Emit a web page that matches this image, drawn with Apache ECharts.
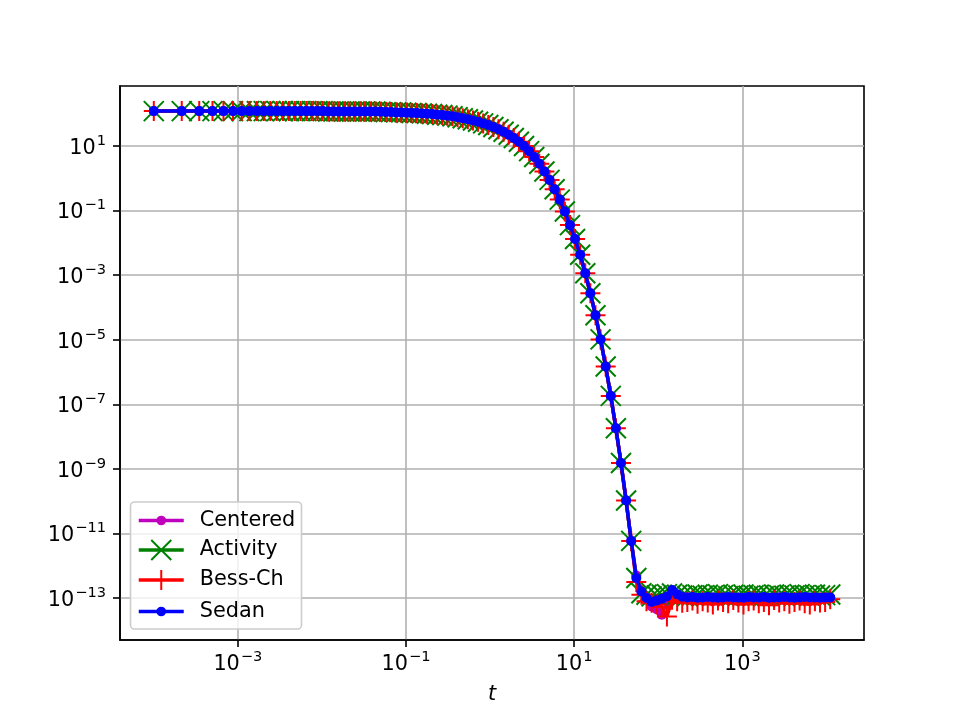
<!DOCTYPE html>
<html>
<head>
<meta charset="UTF-8">
<title>t decay</title>
<script type="text/javascript" src="https://cdn.jsdelivr.net/npm/echarts@6/dist/echarts.min.js"></script>
<style>
	body { margin: 0; background: #fff; }
	#main { width: 960px; height: 720px; }
</style>
</head>
<body>
<div id="main"></div>
<script type="text/javascript">
	// sample times (same for every run)
	var tVals = [
		1.00e-4, 2.15e-4, 3.47e-4, 4.99e-4, 6.74e-4, 8.75e-4, 1.11e-3, 1.37e-3, 1.68e-3, 2.03e-3,
		2.43e-3, 2.90e-3, 3.44e-3, 4.05e-3, 4.76e-3, 5.57e-3, 6.51e-3, 7.58e-3, 8.82e-3, 1.02e-2,
		1.183e-2, 1.370e-2, 1.586e-2, 1.834e-2, 2.119e-2, 2.447e-2, 2.824e-2, 3.258e-2, 3.756e-2, 4.33e-2,
		4.99e-2, 5.75e-2, 6.62e-2, 7.62e-2, 8.77e-2, 0.1010, 0.1163, 0.1338, 0.1540, 0.1772,
		0.2039, 0.2346, 0.2699, 0.3105, 0.3572, 0.4109, 0.4726, 0.5436, 0.6252, 0.7191,
		0.8271, 0.9513, 1.094, 1.258, 1.447, 1.664, 1.914, 2.201, 2.531, 2.911,
		3.348, 3.850, 4.428, 5.092, 5.856, 6.734, 7.744, 8.906, 10.24, 11.78,
		13.55, 15.58, 17.92, 20.60, 23.69, 27.25, 31.33, 36.03, 41.44, 47.66,
		54.80, 63.02, 72.48, 83.35, 95.85, 110.2, 126.8, 145.8, 167.7, 192.8,
		221.7, 255.0, 293.2, 337.2, 387.8, 446.0, 512.9, 589.8, 678.3, 780.0,
		897.0, 1031.6, 1186.3, 1364.3, 1569, 1804, 2075, 2386, 2744, 3156,
		3629, 4173, 4799, 5519, 6347, 7299, 8394, 9653, 11101
	];
	// decade exponent (log10) of the value, the 4 runs lie on top of each other here
	var decayExp = [
		2.08, 2.08, 2.08, 2.08, 2.08, 2.08, 2.08, 2.08, 2.08, 2.08,
		2.08, 2.08, 2.08, 2.08, 2.08, 2.08, 2.08, 2.08, 2.08, 2.08,
		2.07, 2.07, 2.07, 2.07, 2.07, 2.07, 2.07, 2.07, 2.07, 2.07,
		2.06, 2.05, 2.05, 2.04, 2.04, 2.03, 2.02, 2.02, 2.01, 2.00,
		1.99, 1.97, 1.96, 1.94, 1.92, 1.89, 1.86, 1.83, 1.79, 1.75,
		1.70, 1.65, 1.59, 1.52, 1.44, 1.35, 1.25, 1.13, 1.00, 0.84,
		0.66, 0.45, 0.21, -0.05, -0.34, -0.66, -1.03, -1.45, -1.88, -2.37,
		-2.94, -3.56, -4.24, -4.99, -5.83, -6.74, -7.74, -8.82, -9.98, -11.23
	];
	// tails at the round-off floor, one per run
	var tailCentered = [
		-12.30, -12.80, -13.05, -13.26, -13.35, -13.52, -13.10, -12.85, -12.92, -12.98,
		-13.00, -12.98, -13.01, -12.99, -13.00, -12.98, -13.01, -13.00, -12.99, -13.00,
		-13.01, -12.99, -13.00, -12.98, -13.01, -13.00, -12.99, -13.00, -13.01, -12.99,
		-13.00, -12.98, -13.00, -13.01, -12.99, -13.00, -13.00, -12.99, -13.00
	];
	var tailActivity = [
		-12.38, -12.85, -12.90, -12.95, -12.92, -12.90, -12.88, -12.86, -12.90, -12.92,
		-12.94, -12.91, -12.89, -12.93, -12.90, -12.92, -12.88, -12.91, -12.94, -12.90,
		-12.92, -12.89, -12.93, -12.91, -12.90, -12.94, -12.92, -12.89, -12.91, -12.93,
		-12.90, -12.92, -12.88, -12.91, -12.93, -12.90, -12.92, -12.91, -12.89
	];
	var tailBess = [
		-12.50, -12.90, -13.10, -13.15, -13.20, -13.28, -13.57, -13.05, -13.10, -13.15,
		-13.12, -13.08, -13.18, -13.10, -13.14, -13.20, -13.08, -13.12, -13.16, -13.06,
		-13.14, -13.20, -13.10, -13.08, -13.16, -13.12, -13.22, -13.06, -13.14, -13.10,
		-13.18, -13.12, -13.08, -13.16, -13.20, -13.10, -13.14, -13.12, -13.04
	];
	var tailSedan = [
		-12.38, -12.80, -13.00, -13.12, -13.08, -13.02, -12.95, -12.75, -12.88, -12.96,
		-12.98, -12.97, -12.99, -12.98, -12.97, -12.98, -12.99, -12.98, -12.97, -12.98,
		-12.98, -12.99, -12.97, -12.98, -12.98, -12.97, -12.99, -12.98, -12.98, -12.97,
		-12.98, -12.99, -12.98, -12.97, -12.98, -12.98, -12.99, -12.98, -12.98
	];
	var xTicks = [-3, -1, 1, 3];
	var yTicks = [-13, -11, -9, -7, -5, -3, -1, 1];

	var FONT = 'DejaVu Sans';
	var SYM_X = 'path://M0,0L10,10M10,0L0,10';
	var SYM_PLUS = 'path://M5,0L5,10M0,5L10,5';
	var LW = 3.5;

	function buildData(tail){
		var ys = decayExp.concat(tail);
		var out = [];
		for (var i = 0; i < tVals.length; i++) {
			out.push([Math.log10(tVals[i]), ys[i]]);
		}
		return out;
	}
	function powLabel(v){
		var e = Math.round(v);
		return '{b|10}{s|' + (e < 0 ? '\u2212' + (-e) : e) + '}';
	}
	// superscript is lifted by giving it bottom padding
	var richLbl = {
		b: {fontFamily: FONT, fontSize: 20.8, color: '#000', lineHeight: 20, padding: [5, 0, 0, 0]},
		s: {fontFamily: FONT, fontSize: 14.6, color: '#000', lineHeight: 15, padding: [0, 0, 10, 1]}
	};

	function legendFor(name, top, h){
		return {
			data: [name],
			left: 137,
			top: top,
			padding: 0,
			itemWidth: 45,
			itemHeight: h,
			selectedMode: false,
			lineStyle: {width: LW},
			textStyle: {fontFamily: FONT, fontSize: 20.8, color: '#000', padding: [0, 0, 0, 11]}
		};
	}

	var axisLineStyle = {show: true, onZero: false, lineStyle: {color: '#000', width: 1.6}};

	var myChart = echarts.init(document.getElementById('main'), null, {renderer: 'canvas'});
	var option = {
		animation: false,
		backgroundColor: '#fff',
		grid: {left: 120, top: 86, width: 744, height: 554, show: true, borderColor: '#000', borderWidth: 1.6, backgroundColor: 'transparent'},
		xAxis: {
			type: 'value',
			min: -4.402,
			max: 4.447,
			name: 't',
			nameLocation: 'middle',
			nameGap: 44,
			nameTextStyle: {fontFamily: FONT, fontSize: 20.8, fontStyle: 'italic', color: '#000'},
			axisLine: axisLineStyle,
			axisTick: {show: true, customValues: xTicks, length: 7, lineStyle: {color: '#000', width: 1.6}},
			axisLabel: {customValues: xTicks, margin: 12, formatter: powLabel, rich: richLbl},
			splitLine: {show: true, lineStyle: {color: '#b0b0b0', width: 1.6}}
		},
		yAxis: {
			type: 'value',
			min: -14.30,
			max: 2.858,
			axisLine: axisLineStyle,
			axisTick: {show: true, customValues: yTicks, length: 7, lineStyle: {color: '#000', width: 1.6}},
			axisLabel: {customValues: yTicks, margin: 14, formatter: powLabel, rich: richLbl},
			splitLine: {show: true, lineStyle: {color: '#b0b0b0', width: 1.6}}
		},
		graphic: [{
			type: 'rect',
			z: 3,
			shape: {x: 130.5, y: 502, width: 171, height: 127, r: 4},
			style: {fill: 'rgba(255,255,255,0.8)', stroke: '#cccccc', lineWidth: 1.6}
		}],
		legend: [
			legendFor('Centered', 510, 12),
			legendFor('Activity', 539, 25),
			legendFor('Bess-Ch', 569, 25),
			legendFor('Sedan', 601, 12)
		],
		series: [
			{
				name: 'Centered', type: 'line', z: 2,
				data: buildData(tailCentered),
				symbol: 'circle', symbolSize: 10,
				itemStyle: {color: '#bf00bf'},
				lineStyle: {color: '#bf00bf', width: LW}
			},
			{
				name: 'Activity', type: 'line', z: 3,
				data: buildData(tailActivity),
				symbol: SYM_X, symbolSize: 20,
				itemStyle: {color: '#008000', borderColor: '#008000', borderWidth: 2},
				lineStyle: {color: '#008000', width: LW}
			},
			{
				name: 'Bess-Ch', type: 'line', z: 4,
				data: buildData(tailBess),
				symbol: SYM_PLUS, symbolSize: 20,
				itemStyle: {color: '#ff0000', borderColor: '#ff0000', borderWidth: 2},
				lineStyle: {color: '#ff0000', width: LW}
			},
			{
				name: 'Sedan', type: 'line', z: 5,
				data: buildData(tailSedan),
				symbol: 'circle', symbolSize: 10,
				itemStyle: {color: '#0000ff'},
				lineStyle: {color: '#0000ff', width: LW}
			}
		]
	};
	myChart.setOption(option);
</script>
</body>
</html>
